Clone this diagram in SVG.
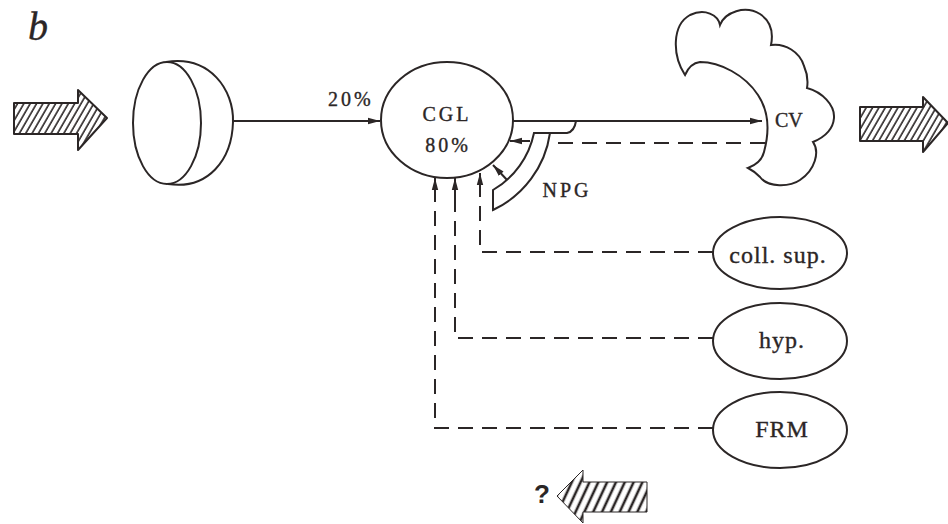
<svg xmlns="http://www.w3.org/2000/svg" width="948" height="524" viewBox="0 0 948 524">
<defs>
<style>
.ln{fill:none;stroke:#2b2626;stroke-width:2}
.ds{fill:none;stroke:#2b2626;stroke-width:2;stroke-dasharray:15 9}
.sh{fill:#fff;stroke:#2b2626;stroke-width:2}
.t{font-family:"Liberation Serif","Times New Roman",serif;fill:#2b2626;stroke:#2b2626;stroke-width:0.35}
.s{font-size:20px;letter-spacing:3px}
.m{font-size:24px;letter-spacing:1px}
</style>
<pattern id="hatch" width="5.5" height="10" patternUnits="userSpaceOnUse" patternTransform="rotate(30)">
<line x1="1" y1="-1" x2="1" y2="11" stroke="#2b2626" stroke-width="1.6"/>
</pattern>
<pattern id="hatch2" width="8" height="10" patternUnits="userSpaceOnUse" patternTransform="rotate(25)">
<line x1="2" y1="-1" x2="2" y2="11" stroke="#2b2626" stroke-width="2.6"/>
</pattern>
<marker id="ah" viewBox="0 0 12 8" refX="12" refY="4" markerWidth="12" markerHeight="8" markerUnits="userSpaceOnUse" orient="auto">
<path d="M0,0.8 L12,4 L0,7.2 Z" fill="#2b2626"/>
</marker>
</defs>
<rect width="948" height="524" fill="#fff"/>

<text class="t" x="28" y="40" font-size="40" font-style="italic" stroke-width="0">b</text>

<g id="input-arrow">
<path d="M14,103 L78,103 L78,90 L107,118 L78,150 L78,134 L14,134 Z" fill="url(#hatch)" stroke="#2b2626" stroke-width="2" stroke-linejoin="round"/>
</g>

<g id="eye">
<ellipse cx="167" cy="123" rx="34" ry="61" class="sh"/>
<path d="M166,62 C210,55 234,90 233,122 C232,160 208,190 168,184" class="ln"/>
</g>

<g id="output-arrow">
<path d="M860,107 L923,107 L923,97 L948,123 L923,152 L923,141 L860,141 Z" fill="url(#hatch)" stroke="#2b2626" stroke-width="2" stroke-linejoin="round"/>
</g>

<g id="question-arrow">
<text x="534" y="503" font-size="26" font-weight="bold" font-family="Liberation Sans, Arial, sans-serif" fill="#2b2626">?</text>
<path d="M557,496 L583,470 L583,482 L647,482 L647,512 L583,512 L583,523 Z" fill="url(#hatch2)" stroke="#2b2626" stroke-width="1"/>
</g>

<g id="connectors">
<path d="M233,121 L380,121" class="ln" marker-end="url(#ah)"/>
<path d="M513,121 L762,121" class="ln" marker-end="url(#ah)"/>
<path d="M765,143 L553,143" class="ds"/>
<path d="M530,141 L510,141" class="ln" marker-end="url(#ah)"/>
<path d="M508,181 L493,165" class="ln" marker-end="url(#ah)"/>
<path d="M534,133 L567,133 C572,132 575,128 576,121" class="ln"/>
<path d="M713,252 L480,252 L480,196" class="ds"/>
<path d="M480,196 L480,173" class="ln" marker-end="url(#ah)"/>
<path d="M713,338 L455,338 L455,200" class="ds"/>
<path d="M455,200 L455,178" class="ln" marker-end="url(#ah)"/>
<path d="M713,428 L435,428 L435,200" class="ds"/>
<path d="M435,200 L435,178" class="ln" marker-end="url(#ah)"/>
</g>

<g id="CGL">
<ellipse cx="447" cy="120" rx="66" ry="58" class="sh"/>
<text class="t s" x="447" y="121" text-anchor="middle">CGL</text>
<text class="t s" x="448" y="152" text-anchor="middle">80%</text>
</g>
<text class="t s" x="328" y="106">20%</text>

<g id="NPG">
<path d="M534,133 A86,86 0 0 1 493,190 L493,210 A101,101 0 0 0 550,133 Z" class="sh"/>
<text class="t s" x="567" y="197" text-anchor="middle" letter-spacing="2">NPG</text>
</g>

<g id="CV">
<path d="M685,75 C672,55 672,25 690,15 C705,8 718,15 720,25 C725,12 745,5 760,14 C772,22 773,35 771,45 C785,43 800,52 804,66 C808,75 808,82 807,88 C822,92 835,105 834,118 C833,130 825,137 813,142 C820,152 815,170 800,180 C790,187 768,188 760,177 C755,172 752,170 748,168 C756,165 762,160 764,152 C770,130 768,110 758,95 C745,75 720,62 700,62 C692,63 688,68 685,75 Z" class="sh"/>
<text class="t" x="775" y="127" font-size="20">CV</text>
</g>

<g id="coll-sup">
<ellipse cx="780" cy="253" rx="67" ry="36" class="sh"/>
<text class="t m" x="778" y="263" text-anchor="middle">coll. sup.</text>
</g>

<g id="hyp">
<ellipse cx="780" cy="341" rx="67" ry="38" class="sh"/>
<text class="t m" x="782" y="348" text-anchor="middle">hyp.</text>
</g>

<g id="FRM">
<ellipse cx="780" cy="430" rx="67" ry="38" class="sh"/>
<text class="t m" x="782" y="437" text-anchor="middle" letter-spacing="2">FRM</text>
</g>
</svg>
